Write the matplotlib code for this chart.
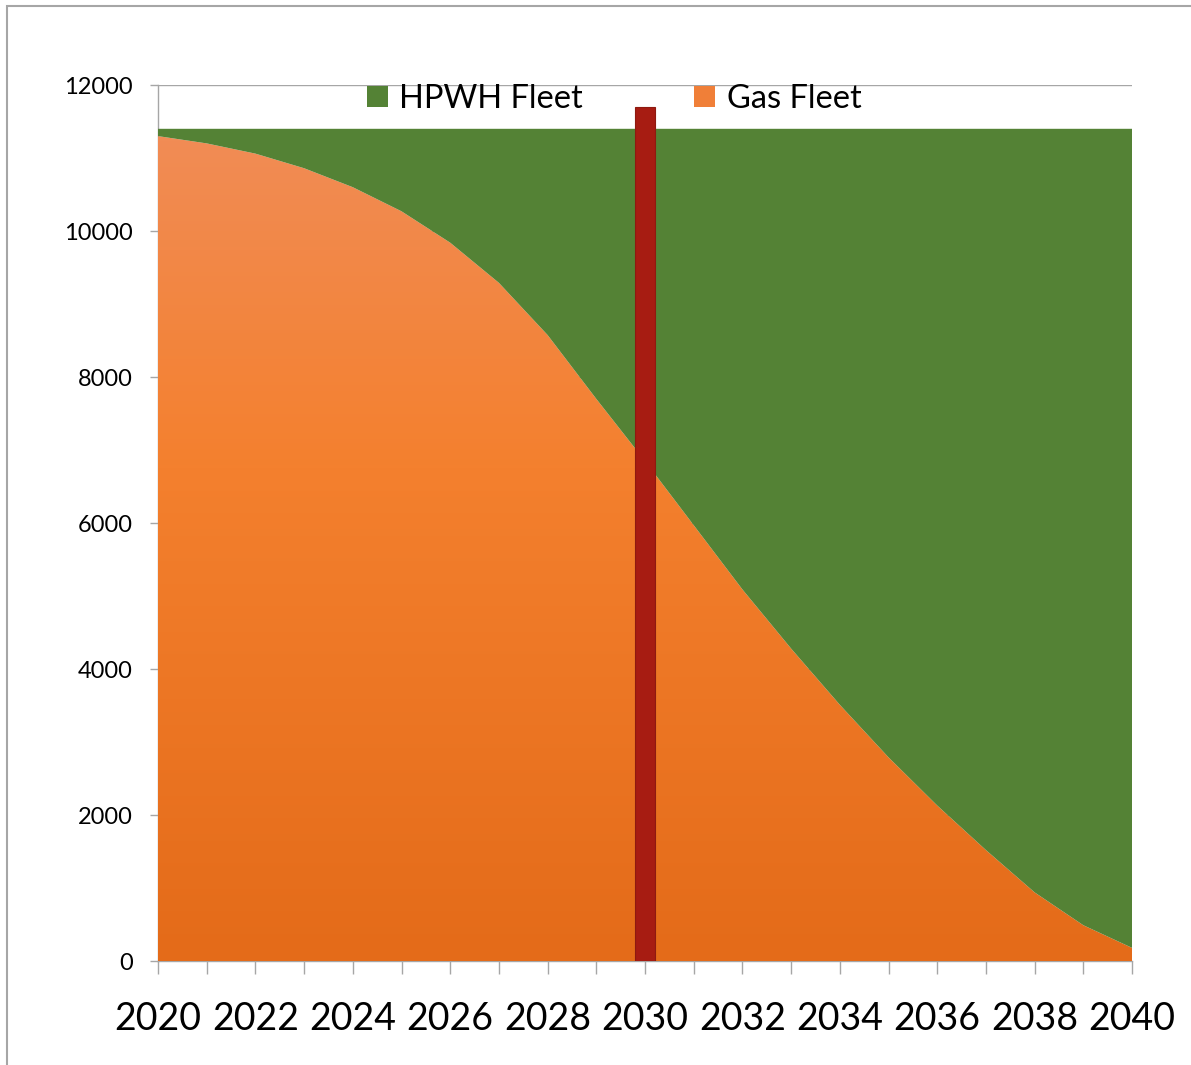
import numpy as np
import matplotlib
matplotlib.use("Agg")
import matplotlib.pyplot as plt
from matplotlib.patches import Patch, Rectangle
from matplotlib.colors import LinearSegmentedColormap

# ---- data ----
years = list(range(2020, 2041))
gas_fleet = [11300, 11200, 11060, 10860, 10600, 10270, 9840, 9290, 8575, 7700,
             6850, 5970, 5090, 4280, 3510, 2790, 2130, 1520, 940, 490, 180]
hpwh_fleet = [100, 200, 340, 540, 800, 1130, 1560, 2110, 2825, 3700,
              4550, 5430, 6310, 7120, 7890, 8610, 9270, 9880, 10460, 10910, 11220]
marker_year = [2030]
marker_value = [11700]
xtick_labels = [str(y) if (y % 2 == 0) else "" for y in years]
ytick_values = [0, 2000, 4000, 6000, 8000, 10000, 12000]
series_names = ["HPWH Fleet", "Gas Fleet"]

GREEN = "#548235"
RED = "#A71C12"
GRAY = "#A6A6A6"

plt.rcParams["font.family"] = ["Lato", "DejaVu Sans"]

fig = plt.figure(figsize=(11.91, 10.65), dpi=100)
ax = fig.add_axes([158 / 1191, 104 / 1065, (1132 - 158) / 1191, (961 - 85) / 1065])

x = np.array(years, dtype=float)
gas = np.array(gas_fleet, dtype=float)
hp = np.array(hpwh_fleet, dtype=float)

# gas area with vertical gradient
poly = ax.fill_between(x, 0, gas, facecolor="none", edgecolor="none", zorder=2)
cmap = LinearSegmentedColormap.from_list(
    "gasgrad",
    [(0.0, (228 / 255, 107 / 255, 25 / 255)),
     (0.6, (244 / 255, 128 / 255, 46 / 255)),
     (1.0, (241 / 255, 140 / 255, 85 / 255))])
grad = np.linspace(0, 1, 256).reshape(-1, 1)
im = ax.imshow(grad, cmap=cmap, origin="lower", aspect="auto",
               extent=[x[0], x[-1], 0, gas.max()], zorder=2, interpolation="bicubic")
path = poly.get_paths()[0]
im.set_clip_path(path, transform=ax.transData)

# hpwh area stacked on top
ax.fill_between(x, gas, gas + hp, facecolor=GREEN, edgecolor="none", zorder=2)

# marker bar
ax.bar(marker_year, marker_value, width=0.41, color=RED, edgecolor="#8E1A10",
       linewidth=0.8, zorder=4)

ax.set_xlim(years[0], years[-1])
ax.set_ylim(0, 12000)

ax.set_xticks(years)
ax.set_xticklabels(xtick_labels)
ax.set_yticks(ytick_values)
ax.set_yticklabels([str(v) for v in ytick_values])

ax.tick_params(axis="x", direction="out", length=9, width=1.0, color=GRAY,
               labelsize=27, pad=20, labelcolor="black")
ax.tick_params(axis="y", direction="out", length=6, width=1.0, color=GRAY,
               labelsize=17, pad=12, labelcolor="black")

ax.yaxis.grid(True, color=GRAY, linewidth=1.0, zorder=0)
ax.set_axisbelow(True)

for s in ["top", "right"]:
    ax.spines[s].set_visible(False)
for s in ["left", "bottom"]:
    ax.spines[s].set_color(GRAY)
    ax.spines[s].set_linewidth(1.0)
    ax.spines[s].set_zorder(1)

handles = [Patch(facecolor=GREEN, edgecolor="none"),
           Patch(facecolor="#F07F38", edgecolor="none")]
leg = ax.legend(handles, series_names, loc="center", bbox_to_anchor=(614 / 1191, 1 - 99 / 1065),
                bbox_transform=fig.transFigure, ncol=2, frameon=False,
                fontsize=23.5, handlelength=0.65, handleheight=0.65, handletextpad=0.35,
                columnspacing=3.4, borderpad=0, borderaxespad=0)
leg.set_zorder(5)

# outer chart frame (top and left visible)
fig.add_artist(Rectangle((7 / 1191, -0.05), 1.2, (1065 - 6) / 1065 + 0.05,
                         transform=fig.transFigure, fill=False,
                         edgecolor=GRAY, linewidth=1.5))

fig.savefig("out.png", dpi=100)
